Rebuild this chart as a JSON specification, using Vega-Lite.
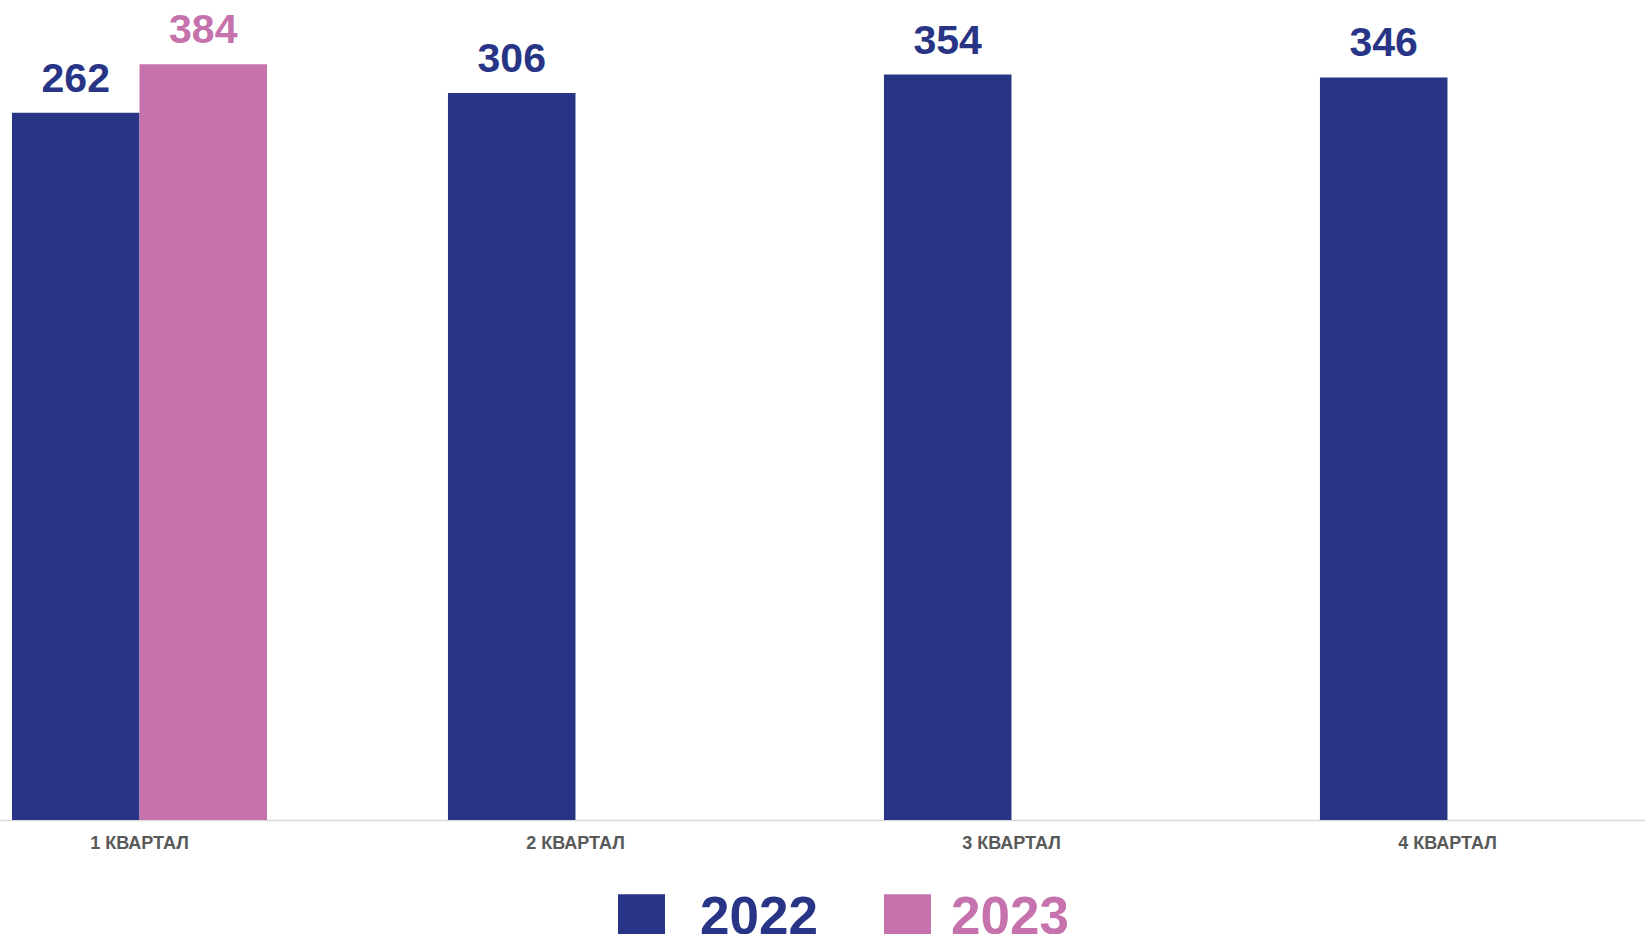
{
  "$schema": "https://vega.github.io/schema/vega-lite/v6.json",
  "autosize": "none",
  "width": 1645,
  "height": 812,
  "padding": {"left": 0, "top": 8, "right": 0, "bottom": 114},
  "background": "white",
  "config": {"view": {"stroke": null}, "font": "Liberation Sans"},
  "data": {"values": [
    {"q": "1 КВАРТАЛ", "year": "2022", "v": 262},
    {"q": "1 КВАРТАЛ", "year": "2023", "v": 384},
    {"q": "2 КВАРТАЛ", "year": "2022", "v": 306},
    {"q": "3 КВАРТАЛ", "year": "2022", "v": 354},
    {"q": "4 КВАРТАЛ", "year": "2022", "v": 346}
  ]},
  "encoding": {
    "x": {"field": "q", "type": "nominal", "sort": null,
      "scale": {"paddingInner": 0.415, "paddingOuter": 0.094, "align": 0.146},
      "axis": {"title": null, "labelAngle": 0, "ticks": false, "labelFontSize": 18, "labelFont": "Liberation Sans", "labelFontWeight": "bold", "labelColor": "#595959", "labelPadding": 14, "domainColor": "#D9D9D9", "domainWidth": 1.5}},
    "xOffset": {"field": "year", "type": "nominal", "scale": {"domain": ["2022", "2023"], "paddingInner": 0, "paddingOuter": 0}},
    "color": {"field": "year", "type": "nominal",
      "scale": {"domain": ["2022", "2023"], "range": ["#283586", "#C572AD"]},
      "legend": {"title": null, "orient": "none", "legendX": 615, "legendY": 883, "direction": "horizontal", "padding": 0,
        "symbolType": "square", "symbolSize": 2209, "symbolStrokeWidth": 0, "symbolOpacity": 1,
        "labelFontSize": 53, "labelFont": "Liberation Sans", "labelFontWeight": "bold", "labelOffset": 32, "columnPadding": 63, "labelLimit": 400,
        "encode": {"labels": {"update": {
          "fill": {"signal": "datum.value == '2022' ? '#283586' : '#C572AD'"},
          "dx": {"signal": "datum.value == '2023' ? -15 : 0"}
        }}}}}
  },
  "layer": [
    {"mark": {"type": "bar"},
     "encoding": {
       "y": {"field": "v", "type": "quantitative", "scale": {"type": "log", "domain": [1, 598], "nice": false}, "axis": null},
       "y2": {"datum": 1}
     }},
    {"mark": {"type": "text", "dy": -21, "baseline": "alphabetic", "fontSize": 41, "fontWeight": "bold", "font": "Liberation Sans"},
     "encoding": {
       "y": {"field": "v", "type": "quantitative"},
       "text": {"field": "v", "type": "quantitative"}
     }}
  ]
}
